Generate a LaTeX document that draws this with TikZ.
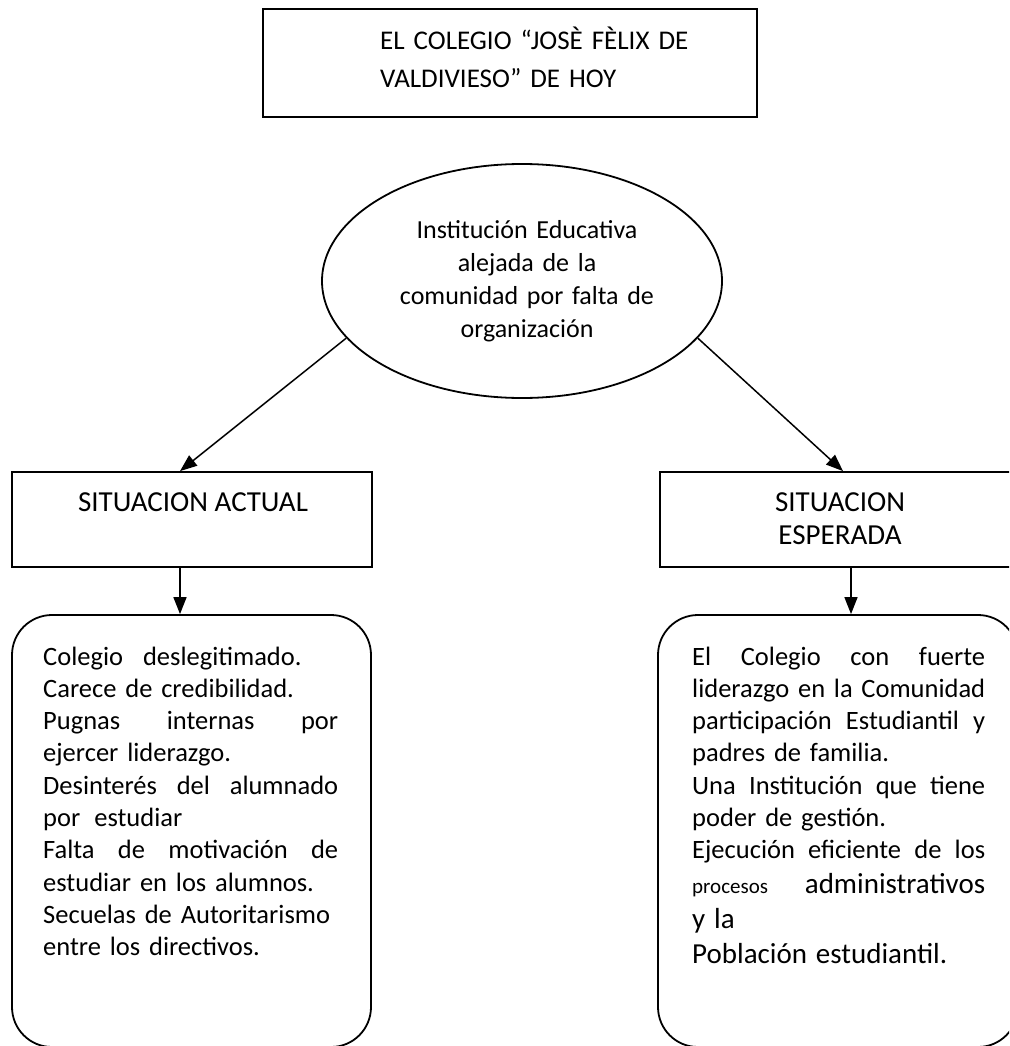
\documentclass[tikz,border=0pt]{standalone}
\usepackage{fontspec}
\setmainfont{Carlito}
\usetikzlibrary{shapes.geometric,arrows.meta}
\newcommand\jbox[2]{\leavevmode\hbox to #1{#2}}
\begin{document}
\begin{tikzpicture}[x=1pt,y=-1pt,
  box/.style={draw,line width=1.8pt,inner sep=0pt},
  rbox/.style={draw,line width=1.8pt,rounded corners=40pt,inner sep=0pt},
  conn/.style={line width=1.5pt,-{Triangle[length=17pt,width=13pt]}},
  body/.style={inner sep=0pt,font=\fontsize{26.5}{32.3}\selectfont}
]
\useasboundingbox (0,0) rectangle (1009,1046);
\fill[white] (0,0) rectangle (1009,1046);
\begin{scope}
\clip (0,0) rectangle (1009,1046);
% title box
\node[box,minimum width=494pt,minimum height=108pt] (top) at (510,63) {};
\node[body,anchor=base west,text width=420pt,align=left,font=\fontsize{27}{37.7}\selectfont] (toptxt) at (380,50)
  {EL COLEGIO “JOSÈ FÈLIX DE\\VALDIVIESO” DE HOY};
% ellipse
\node[draw,ellipse,line width=1.8pt,minimum width=400pt,minimum height=234pt,inner sep=0pt] (ell) at (522,281) {};
\node[body,anchor=base,text width=320pt,align=center,font=\fontsize{26}{33}\selectfont] (elltxt) at (527,238)
  {Institución Educativa\\alejada de la\\comunidad por falta de\\organización};
% situation boxes
\node[box,minimum width=360pt,minimum height=95pt] (sa) at (192,519.5) {};
\node[body,anchor=base,font=\fontsize{29}{33}\selectfont] (satxt) at (193,511) {SITUACION ACTUAL};
\node[box,minimum width=360pt,minimum height=95pt] (se) at (840,519.5) {};
\node[body,anchor=base,text width=300pt,align=center,font=\fontsize{29}{33}\selectfont] (setxt) at (840,511) {SITUACION\\ESPERADA};
% rounded boxes
\node[rbox,minimum width=359pt,minimum height=432pt] (lb) at (191.5,831) {};
\node[rbox,minimum width=360pt,minimum height=432pt] (rb) at (838,831) {};
% helper coordinates
\coordinate (xl) at (180,0);
\coordinate (xr) at (843,0);
\coordinate (xrd) at (851,0);
% connectors
\draw[conn] (ell.198) -- (sa.north -| xl);
\draw[conn] (ell.342) -- (se.north -| xr);
\draw[conn] (sa.south -| xl) -- (lb.north -| xl);
\draw[conn] (se.south -| xrd) -- (rb.north -| xrd);
% left text
\node[body,anchor=base west,text width=295pt,align=left] (lbtxt) at (43,665)
 {Colegio\hspace{20pt}deslegitimado.\\
  Carece de credibilidad.\\
  \jbox{295pt}{Pugnas\hfill internas\hfill por}\\
  ejercer liderazgo.\\
  \jbox{295pt}{Desinterés\hfill del\hfill alumnado}\\
  por\hspace{14pt}estudiar\\
  \jbox{295pt}{Falta\hfill de\hfill motivación\hfill de}\\
  estudiar en los alumnos.\\
  Secuelas de Autoritarismo\\
  entre los directivos.};
% right text
\node[body,anchor=base west,text width=293pt,align=left] (rbtxt) at (692,665)
 {{\jbox{293pt}{El\hfill Colegio\hfill con\hfill fuerte}\\
  \jbox{293pt}{liderazgo\hfill en\hfill la\hfill Comunidad}\\
  \jbox{293pt}{participación\hfill Estudiantil\hfill y}\\
  padres de familia.\\
  \jbox{293pt}{Una\hfill Institución\hfill que\hfill tiene}\\
  poder de gestión.\\
  \jbox{293pt}{Ejecución\hfill eficiente\hfill de\hfill los}\par}
  {\fontsize{29}{35}\selectfont
  \jbox{293pt}{{\fontsize{21}{25}\selectfont procesos}\hfill administrativos}\\
  y la\\
  Población estudiantil.\par}};
\end{scope}
\end{tikzpicture}
\end{document}
